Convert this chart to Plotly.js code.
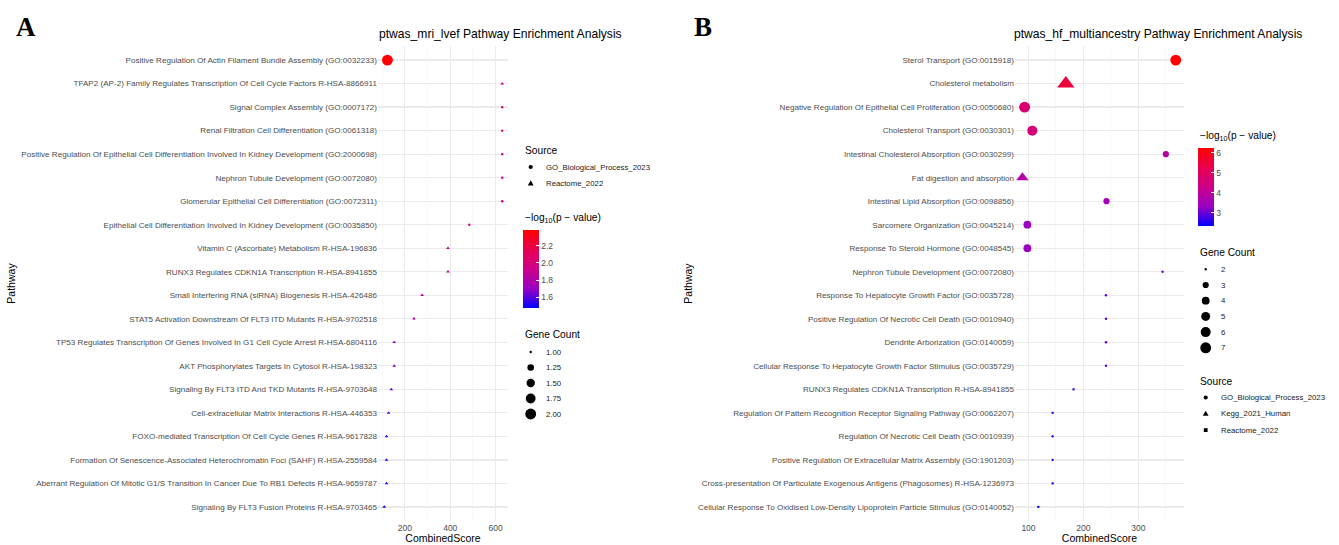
<!DOCTYPE html>
<html><head><meta charset="utf-8">
<script src="https://cdn.plot.ly/plotly-3.0.1.min.js"></script>
<style>html,body{margin:0;padding:0;background:#fff}#chart{width:1339px;height:545px}</style>
</head><body><div id="chart"></div>
<script>
// ---------------- Panel A data ----------------
const pathwaysA = [
"Positive Regulation Of Actin Filament Bundle Assembly (GO:0032233)",
"TFAP2 (AP-2) Family Regulates Transcription Of Cell Cycle Factors R-HSA-8866911",
"Signal Complex Assembly (GO:0007172)",
"Renal Filtration Cell Differentiation (GO:0061318)",
"Positive Regulation Of Epithelial Cell Differentiation Involved In Kidney Development (GO:2000698)",
"Nephron Tubule Development (GO:0072080)",
"Glomerular Epithelial Cell Differentiation (GO:0072311)",
"Epithelial Cell Differentiation Involved In Kidney Development (GO:0035850)",
"Vitamin C (Ascorbate) Metabolism R-HSA-196836",
"RUNX3 Regulates CDKN1A Transcription R-HSA-8941855",
"Small Interfering RNA (siRNA) Biogenesis R-HSA-426486",
"STAT5 Activation Downstream Of FLT3 ITD Mutants R-HSA-9702518",
"TP53 Regulates Transcription Of Genes Involved In G1 Cell Cycle Arrest R-HSA-6804116",
"AKT Phosphorylates Targets In Cytosol R-HSA-198323",
"Signaling By FLT3 ITD And TKD Mutants R-HSA-9703648",
"Cell-extracellular Matrix Interactions R-HSA-446353",
"FOXO-mediated Transcription Of Cell Cycle Genes R-HSA-9617828",
"Formation Of Senescence-Associated Heterochromatin Foci (SAHF) R-HSA-2559584",
"Aberrant Regulation Of Mitotic G1/S Transition In Cancer Due To RB1 Defects R-HSA-9659787",
"Signaling By FLT3 Fusion Proteins R-HSA-9703465"
];
const sourceA = [
"GO_Biological_Process_2023","Reactome_2022","GO_Biological_Process_2023","GO_Biological_Process_2023",
"GO_Biological_Process_2023","GO_Biological_Process_2023","GO_Biological_Process_2023","GO_Biological_Process_2023",
"Reactome_2022","Reactome_2022","Reactome_2022","Reactome_2022","Reactome_2022","Reactome_2022",
"Reactome_2022","Reactome_2022","Reactome_2022","Reactome_2022","Reactome_2022","Reactome_2022"
];
const scoreA = [123, 629, 629, 629, 629, 629, 629, 484, 390, 390, 276, 240, 153, 153, 140, 128, 119, 119, 119, 109];
const logpA  = [2.38, 1.98, 1.98, 1.98, 1.98, 1.98, 1.98, 1.94, 1.88, 1.88, 1.81, 1.77, 1.67, 1.67, 1.63, 1.60, 1.55, 1.55, 1.55, 1.476];
const countA = [2, 1, 1, 1, 1, 1, 1, 1, 1, 1, 1, 1, 1, 1, 1, 1, 1, 1, 1, 1];
const sourceLevelsA = ["GO_Biological_Process_2023", "Reactome_2022"];
const countBreaksA = [1.00, 1.25, 1.50, 1.75, 2.00];
const colorTicksA = [1.6, 1.8, 2.0, 2.2];

// ---------------- Panel B data ----------------
const pathwaysB = [
"Sterol Transport (GO:0015918)",
"Cholesterol metabolism",
"Negative Regulation Of Epithelial Cell Proliferation (GO:0050680)",
"Cholesterol Transport (GO:0030301)",
"Intestinal Cholesterol Absorption (GO:0030299)",
"Fat digestion and absorption",
"Intestinal Lipid Absorption (GO:0098856)",
"Sarcomere Organization (GO:0045214)",
"Response To Steroid Hormone (GO:0048545)",
"Nephron Tubule Development (GO:0072080)",
"Response To Hepatocyte Growth Factor (GO:0035728)",
"Positive Regulation Of Necrotic Cell Death (GO:0010940)",
"Dendrite Arborization (GO:0140059)",
"Cellular Response To Hepatocyte Growth Factor Stimulus (GO:0035729)",
"RUNX3 Regulates CDKN1A Transcription R-HSA-8941855",
"Regulation Of Pattern Recognition Receptor Signaling Pathway (GO:0062207)",
"Regulation Of Necrotic Cell Death (GO:0010939)",
"Positive Regulation Of Extracellular Matrix Assembly (GO:1901203)",
"Cross-presentation Of Particulate Exogenous Antigens (Phagosomes) R-HSA-1236973",
"Cellular Response To Oxidised Low-Density Lipoprotein Particle Stimulus (GO:0140052)"
];
const sourceB = [
"GO_Biological_Process_2023","Kegg_2021_Human","GO_Biological_Process_2023","GO_Biological_Process_2023",
"GO_Biological_Process_2023","Kegg_2021_Human","GO_Biological_Process_2023","GO_Biological_Process_2023",
"GO_Biological_Process_2023","GO_Biological_Process_2023","GO_Biological_Process_2023","GO_Biological_Process_2023",
"GO_Biological_Process_2023","GO_Biological_Process_2023","Reactome_2022","GO_Biological_Process_2023",
"GO_Biological_Process_2023","GO_Biological_Process_2023","Reactome_2022","GO_Biological_Process_2023"
];
const scoreB = [368, 168, 93, 107, 350, 89, 242, 98, 98, 344, 241, 241, 241, 241, 182, 144, 144, 144, 144, 118];
const logpB  = [6.25, 5.50, 4.70, 4.60, 3.90, 3.85, 3.50, 3.32, 3.32, 3.00, 2.88, 2.88, 2.88, 2.88, 2.65, 2.52, 2.52, 2.52, 2.52, 2.33];
const countB = [7, 7, 7, 6, 3, 4, 3, 4, 4, 2, 2, 2, 2, 2, 2, 2, 2, 2, 2, 2];
const sourceLevelsB = ["GO_Biological_Process_2023", "Kegg_2021_Human", "Reactome_2022"];
const countBreaksB = [2, 3, 4, 5, 6, 7];
const colorTicksB = [3, 4, 5, 6];

// ---------------- styling helpers ----------------
const W = 1339, H = 545;
const FONT = "Liberation Sans, Arial, Helvetica, sans-serif";
const SYMBOLS = ["circle", "triangle-up", "square"];
const SYMBOL_SCALE = {"circle": 1.0, "triangle-up": 1.38, "square": 0.9};
const COLORSCALE = [[0, "#0000FF"], [0.25, "#9A00C2"], [0.5, "#CC0089"], [0.75, "#E8004F"], [1, "#FF0000"]];

function ggSize(c, lo, hi) { // ggplot2 scale_size (area) range 1..6
  return 1 + 5 * Math.sqrt((c - lo) / (hi - lo));
}
function sizePx(c, lo, hi) { return 1.7 * ggSize(c, lo, hi) + 0.7; }
const px = v => v / W, py = v => 1 - v / H;

function panelTrace(paths, src, score, logp, count, levels, xa, ya, cax) {
  const lo = Math.min(...count), hi = Math.max(...count);
  const syms = src.map(s => SYMBOLS[levels.indexOf(s)]);
  return {
    type: "scatter", mode: "markers", x: score, y: paths, xaxis: xa, yaxis: ya,
    marker: {
      symbol: syms,
      size: count.map((c, i) => sizePx(c, lo, hi) * SYMBOL_SCALE[syms[i]]),
      color: logp, coloraxis: cax, line: {width: 0}, opacity: 1
    },
    showlegend: false, hoverinfo: "x+y"
  };
}

const traces = [
  panelTrace(pathwaysA, sourceA, scoreA, logpA, countA, sourceLevelsA, "x", "y", "coloraxis"),
  panelTrace(pathwaysB, sourceB, scoreB, logpB, countB, sourceLevelsB, "x2", "y2", "coloraxis2")
];

// plot geometry
const yDom = [py(521), py(46)];
const gridMajor = "#ebebeb", gridMinor = "#f4f4f4";
function xAxis(dom, range, dtick, anchor) {
  return {
    domain: dom, range: range, anchor: anchor, tick0: 0, dtick: dtick,
    showgrid: true, gridcolor: gridMajor, gridwidth: 1, zeroline: false, showline: false, ticks: "",
    tickfont: {family: FONT, size: 8.5, color: "#4d4d4d"},
    minor: {tick0: 0, dtick: dtick / 2, showgrid: true, gridcolor: gridMinor, gridwidth: 0.6},
    title: {text: "CombinedScore", font: {family: FONT, size: 10.5, color: "#000"}, standoff: 1},
    automargin: false, fixedrange: true
  };
}
function yAxis(paths, anchor) {
  return {
    domain: yDom, anchor: anchor, type: "category", categoryorder: "array",
    categoryarray: paths.slice().reverse(), range: [-0.6, paths.length - 0.4],
    showgrid: true, gridcolor: gridMajor, gridwidth: 1.3, zeroline: false, showline: false, ticks: "",
    tickfont: {family: FONT, size: 8.1, color: "#4d4d4d"},
    title: {text: "Pathway", font: {family: FONT, size: 10.5, color: "#000"}, standoff: 3},
    automargin: false, fixedrange: true
  };
}
function colorAxis(xLeft, yTop, ticks, decimals) {
  return {
    colorscale: COLORSCALE, showscale: true,
    colorbar: {
      x: px(xLeft), xanchor: "left", y: py(yTop), yanchor: "top",
      len: 78, lenmode: "pixels", thickness: 16, thicknessmode: "pixels",
      xpad: 0, ypad: 0, outlinewidth: 0, borderwidth: 0,
      tickmode: "array", tickvals: ticks,
      ticktext: ticks.map(v => v.toFixed(decimals)),
      ticks: "inside", ticklen: 3, tickcolor: "#ffffff", tickwidth: 1,
      tickfont: {family: FONT, size: 8.5, color: "#4d4d4d"}
    }
  };
}

const annotations = [];
const shapes = [];
function text(x, y, t, size, opts) {
  annotations.push(Object.assign({
    xref: "paper", yref: "paper", x: px(x), y: py(y), text: t, showarrow: false,
    xanchor: "left", yanchor: "middle", font: {family: FONT, size: size, color: "#000"}
  }, opts || {}));
}
function key(sym, cx, cy, d) {
  const base = {xref: "paper", yref: "paper", xsizemode: "pixel", ysizemode: "pixel",
    xanchor: px(cx), yanchor: py(cy), fillcolor: "#000", line: {width: 0}, layer: "above"};
  const r = d / 2;
  if (sym === "circle") {
    shapes.push(Object.assign({type: "circle", x0: -r, x1: r, y0: -r, y1: r}, base));
  } else if (sym === "square") {
    shapes.push(Object.assign({type: "rect", x0: -r, x1: r, y0: -r, y1: r}, base));
  } else {
    const a = r * 1.15, b = r * 0.75;
    shapes.push(Object.assign({type: "path",
      path: `M ${-a},${-b} L ${a},${-b} L 0,${r * 1.25} Z`}, base));
  }
}
const LEG_FONT = {family: FONT, size: 7.8, color: "#1a1a1a"};
function sourceLegend(levels, x0, yTitle, yFirst, step) {
  text(x0, yTitle, "Source", 10.2);
  levels.forEach((lv, i) => {
    const sym = SYMBOLS[i];
    key(sym, x0 + 7.7, yFirst + i * step, 4.2 * (sym === "circle" ? 1 : sym === "square" ? 0.9 : 1.2));
    text(x0 + 21, yFirst + i * step, lv, 7.8, {font: LEG_FONT});
  });
}
function countLegend(breaks, x0, yTitle, yFirst, step, fmt) {
  text(x0, yTitle, "Gene Count", 10.2);
  const lo = Math.min(...breaks), hi = Math.max(...breaks);
  breaks.forEach((b, i) => {
    key("circle", x0 + 7.7, yFirst + i * step, sizePx(b, lo, hi));
    text(x0 + 21, yFirst + i * step, fmt(b), 7.8, {font: LEG_FONT});
  });
}
const CB_TITLE = "\u2212log<sub>10</sub>(p \u2212 value)";

// Panel letters and titles
const LETTER_FONT = {family: "Liberation Serif, Times New Roman, serif", size: 27, color: "#000"};
text(14, 27, "<b>A</b>", 27, {font: LETTER_FONT});
text(692, 27, "<b>B</b>", 27, {font: LETTER_FONT});
text(377, 34, "ptwas_mri_lvef Pathway Enrichment Analysis", 12.1);
text(1012, 34, "ptwas_hf_multiancestry Pathway Enrichment Analysis", 12.1);

// Legends panel A
sourceLegend(sourceLevelsA, 523, 150, 167, 16.5);
text(523, 218, CB_TITLE, 10.2);
countLegend(countBreaksA, 523, 334, 352, 15.5, v => v.toFixed(2));

// Legends panel B
text(1198, 136, CB_TITLE, 10.2);
countLegend(countBreaksB, 1198, 252, 269.3, 15.7, v => String(v));
sourceLegend(sourceLevelsB, 1198, 381, 397.5, 16.3);

const layout = {
  width: W, height: H, margin: {l: 0, r: 0, t: 0, b: 0},
  paper_bgcolor: "#fff", plot_bgcolor: "#fff", showlegend: false,
  font: {family: FONT, color: "#000"},
  xaxis: xAxis([px(378), px(508)], [81.5, 654.5], 200, "y"),
  yaxis: yAxis(pathwaysA, "x"),
  xaxis2: xAxis([px(1015), px(1184)], [75.5, 383], 100, "y2"),
  yaxis2: yAxis(pathwaysB, "x2"),
  coloraxis: colorAxis(523, 230, colorTicksA, 1),
  coloraxis2: colorAxis(1198, 148, colorTicksB, 0),
  annotations: annotations, shapes: shapes
};

Plotly.newPlot("chart", traces, layout, {displayModeBar: false, staticPlot: true});
</script>
</body></html>
